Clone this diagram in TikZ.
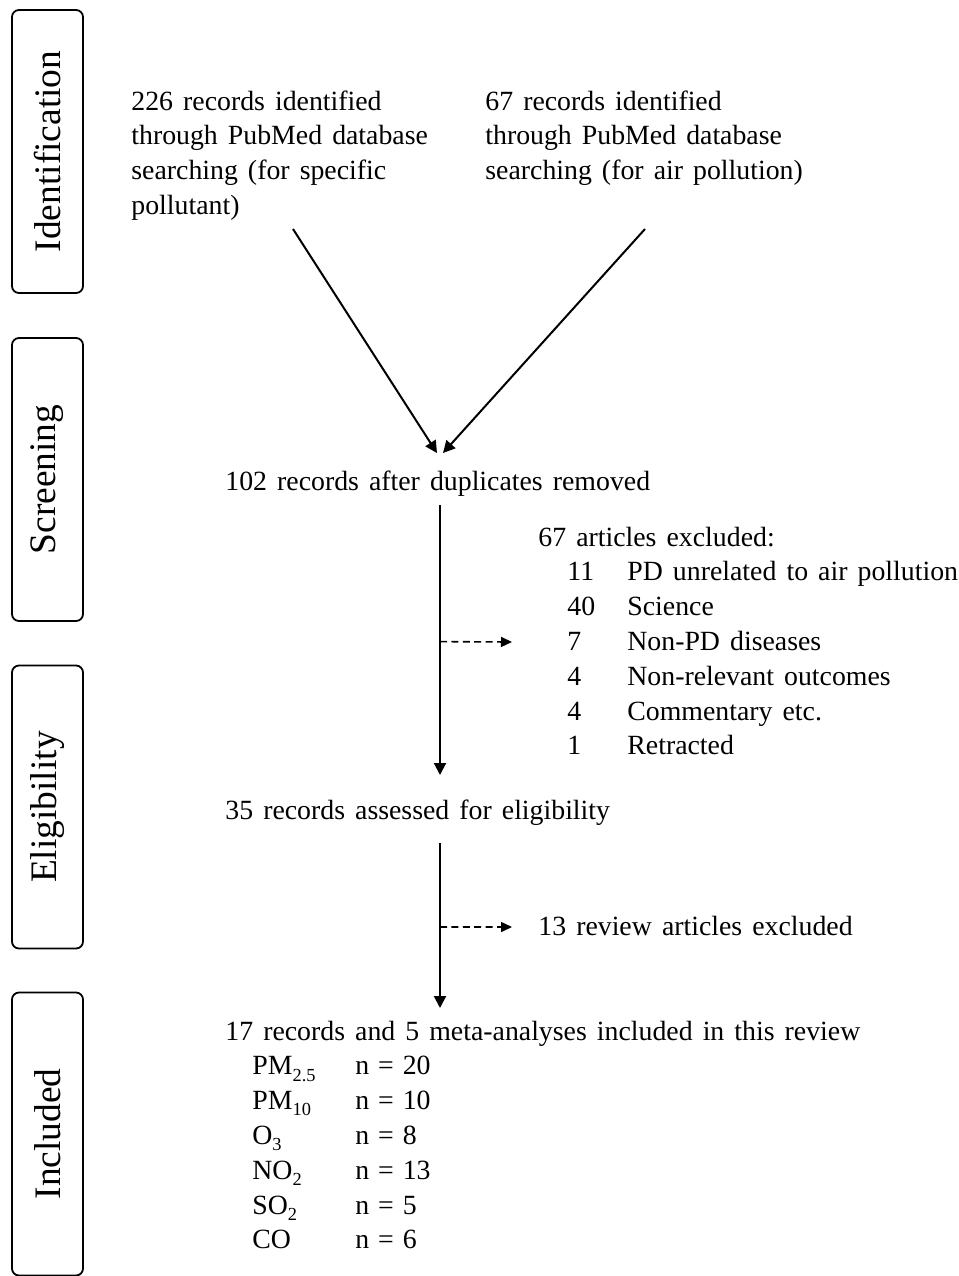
\documentclass[tikz,border=0pt]{standalone}
\usepackage{fontspec}
\setmainfont{Liberation Serif}[WordSpace=1.45]
\usetikzlibrary{arrows.meta}
\newcommand\lowsub[1]{\raisebox{-0.5ex}{\fontsize{9.2}{9.2}\selectfont #1}}
\tikzset{
  stage/.style={draw,line width=0.9pt,rounded corners=3.5pt,rotate=90,inner sep=0pt,
    minimum width=141.5pt,minimum height=35.5pt,font=\fontsize{18.7}{20}\selectfont},
  txt/.style={inner sep=0pt,anchor=base west,align=left,font=\fontsize{13.9}{17.4}\selectfont},
  arr/.style={line width=1pt,-{Triangle[length=6pt,width=6pt]}},
  darr/.style={line width=0.8pt,dash pattern=on 3.5pt off 2.2pt,-{Triangle[length=5.5pt,width=5pt]}}
}
\begin{document}
\begin{tikzpicture}[x=0.5pt,y=-0.5pt]
\useasboundingbox(0,0)rectangle(959,1276);
% stages
\node[stage](ident)at(47.5,151.5){Identification};
\node[stage](screen)at(47.5,479.5){Screening};
\node[stage](elig)at(47.5,807){Eligibility};
\node[stage](incl)at(47.5,1134){Included};
% records (base is the last line)
\node[txt](recA)at(131,214.4){226 records identified\\through PubMed database\\searching (for specific\\pollutant)};
\node[txt](recB)at(485,179.6){67 records identified\\through PubMed database\\searching (for air pollution)};
\node[txt](dup)at(225,490){102 records after duplicates removed};
\node[txt](excl)at(538,546){67 articles excluded:};
\foreach\num/\why[count=\k]in{11/PD unrelated to air pollution,40/Science,7/Non-PD diseases,
  4/Non-relevant outcomes,4/Commentary etc.,1/Retracted}{
  \node[txt](exnum\k)at(567,546+34.8*\k){\num};
  \node[txt](exwhy\k)at(627,546+34.8*\k){\why};
}
\node[txt](assess)at(225,819){35 records assessed for eligibility};
\node[txt](rev)at(538,935){13 review articles excluded};
\node[txt](final)at(225,1040){17 records and 5 meta-analyses included in this review};
\foreach\gas/\n[count=\k]in{PM\lowsub{2.5}/20,PM\lowsub{10}/10,O\lowsub{3}/8,
  NO\lowsub{2}/13,SO\lowsub{2}/5,CO/6}{
  \node[txt](gas\k)at(252,1040+34.8*\k){\gas};
  \node[txt](cnt\k)at(355,1040+34.8*\k){n\hspace{0.32em}=\hspace{0.32em}\n};
}
% arrows
\coordinate(fromA)at(293,229);
\coordinate(fromB)at(645,229);
\coordinate(toA)at(437,453);
\coordinate(toB)at(443,453);
\draw[arr](fromA)--(toA);
\draw[arr](fromB)--(toB);
\coordinate(dupout)at(440,505);
\coordinate(assessin)at(440,775);
\draw[arr](dupout)--(assessin)coordinate[pos=0.506](side1);
\coordinate(exin)at(512,642);
\draw[darr](side1)--(exin);
\coordinate(assessout)at(440,843);
\coordinate(finalin)at(440,1008);
\draw[arr](assessout)--(finalin)coordinate[pos=0.509](side2);
\coordinate(revin)at(512,927);
\draw[darr](side2)--(revin);
\end{tikzpicture}
\end{document}
